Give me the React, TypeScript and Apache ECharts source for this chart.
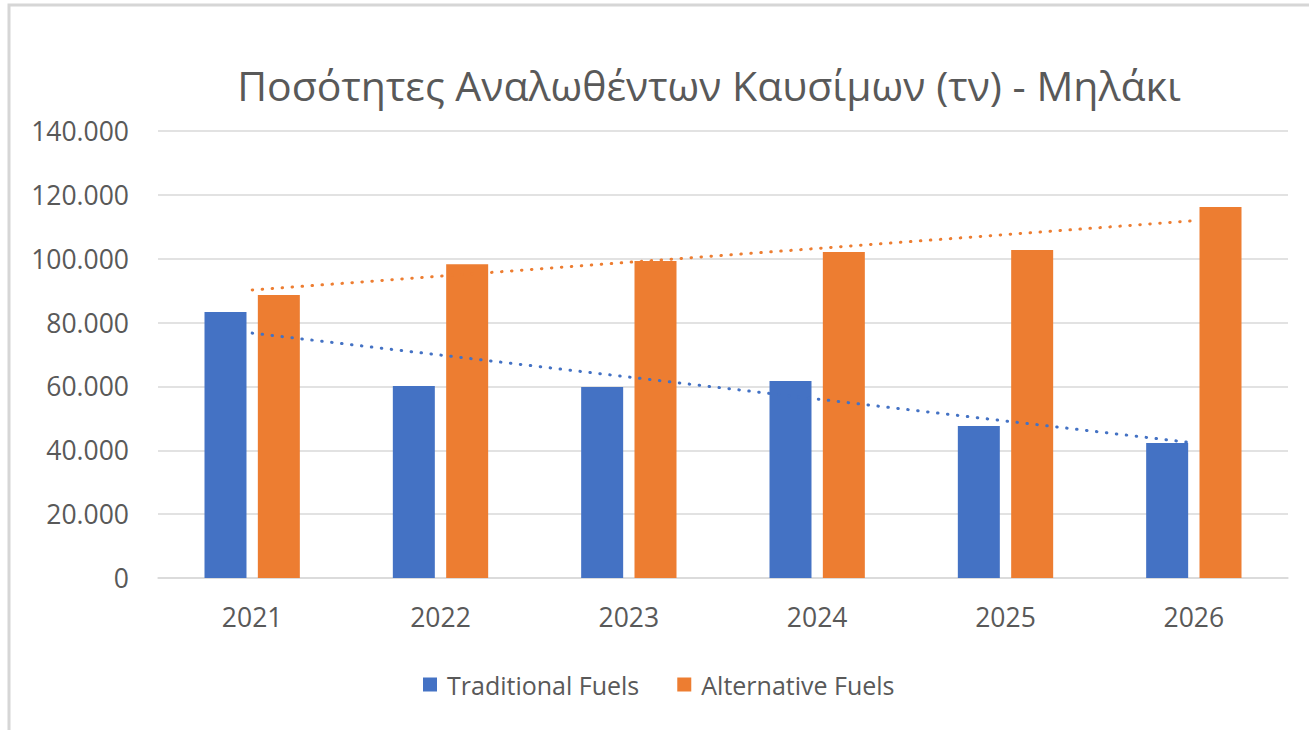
import React, { useEffect, useRef } from "react";
import * as echarts from "echarts";

const categories = ["2021", "2022", "2023", "2024", "2025", "2026"];
const traditionalFuels = [83300, 60100, 59800, 61700, 47600, 42300];
const alternativeFuels = [88600, 98300, 99300, 102100, 102700, 116200];
// Trendline endpoints (linear trendlines, 2021 → 2026)
const traditionalTrend = [76700, null, null, null, null, 42300];
const alternativeTrend = [90200, null, null, null, null, 111900];
const titleText = "Ποσότητες Αναλωθέντων Καυσίμων (τν) - Μηλάκι";

const FONT = "'Open Sans', 'Noto Sans', sans-serif";
const GRAY = "#595959";
const BLUE = "#4472C4";
const ORANGE = "#ED7D31";

function fmt(v: number): string {
  return String(v).replace(/\B(?=(\d{3})+(?!\d))/g, ".");
}

export default function App() {
  const ref = useRef<HTMLDivElement>(null);
  useEffect(() => {
    document.body.style.margin = "0";
    const chart = echarts.init(ref.current!, null, { renderer: "svg" });
    chart.setOption({
      animation: false,
      backgroundColor: "#ffffff",
      graphic: [
        {
          type: "rect",
          shape: { x: 9, y: 5, width: 1400, height: 800 },
          style: { fill: "none", stroke: "#d6d6d6", lineWidth: 3 },
          silent: true,
        },
      ],
      title: {
        text: titleText,
        left: 704,
        top: 59,
        textAlign: "center",
        textStyle: { fontFamily: FONT, fontSize: 41, fontWeight: "normal", color: GRAY },
      },
      legend: {
        data: ["Traditional Fuels", "Alternative Fuels"],
        left: 418,
        top: 667,
        icon: "rect",
        itemWidth: 14,
        itemHeight: 14,
        itemGap: 38,
        textStyle: { fontFamily: FONT, fontSize: 25, color: GRAY, padding: [0, 0, 0, 5] },
      },
      grid: { left: 158, right: 21, top: 131, bottom: 152, containLabel: false },
      xAxis: {
        type: "category",
        data: categories,
        boundaryGap: true,
        axisLine: { show: true, lineStyle: { color: "#d9d9d9", width: 1.5 } },
        axisTick: { show: false },
        axisLabel: { fontFamily: FONT, fontSize: 26.5, color: GRAY, margin: 25 },
      },
      yAxis: {
        type: "value",
        min: 0,
        max: 140000,
        interval: 20000,
        axisLine: { show: false },
        axisTick: { show: false },
        splitLine: { lineStyle: { color: "#d9d9d9", width: 1.5 } },
        axisLabel: {
          fontFamily: FONT,
          fontSize: 26.5,
          color: GRAY,
          margin: 29,
          formatter: (v: number) => fmt(v),
        },
      },
      series: [
        {
          name: "Traditional Fuels",
          type: "bar",
          data: traditionalFuels,
          barWidth: 42,
          barGap: "27%",
          itemStyle: { color: BLUE },
        },
        {
          name: "Alternative Fuels",
          type: "bar",
          data: alternativeFuels,
          barWidth: 42,
          barGap: "27%",
          itemStyle: { color: ORANGE },
        },
        {
          name: "Trend Traditional",
          type: "line",
          data: traditionalTrend,
          connectNulls: true,
          symbol: "none",
          lineStyle: { color: BLUE, width: 3, type: [0.5, 9.5], cap: "round" },
          z: 5,
        },
        {
          name: "Trend Alternative",
          type: "line",
          data: alternativeTrend,
          connectNulls: true,
          symbol: "none",
          lineStyle: { color: ORANGE, width: 3, type: [0.5, 9.5], cap: "round" },
          z: 5,
        },
      ],
    });
    return () => chart.dispose();
  }, []);
  return <div ref={ref} style={{ width: 1309, height: 730 }} />;
}
